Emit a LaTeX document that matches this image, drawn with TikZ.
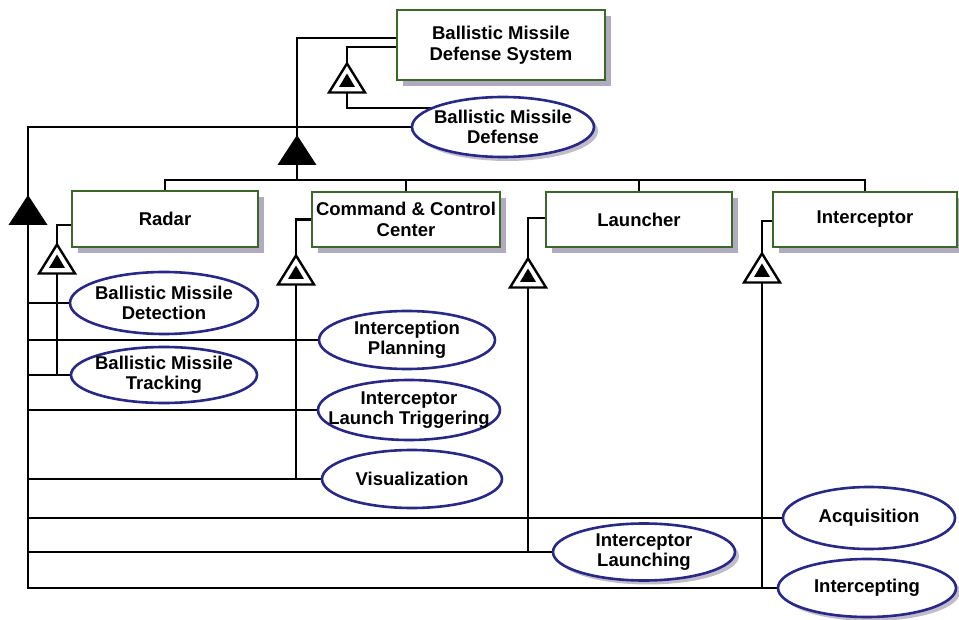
\documentclass[tikz,border=0pt]{standalone}
\usepackage{fontspec}
\setmainfont{Liberation Sans}
\usetikzlibrary{shapes.geometric,shadows,backgrounds}
\definecolor{boxgreen}{RGB}{58,104,40}
\definecolor{ovalblue}{RGB}{40,40,135}
\definecolor{shadowgray}{RGB}{178,170,190}
\begin{document}
\begin{tikzpicture}[x=1pt,y=-1pt,
  lbl/.style={font=\bfseries\fontsize{18.5}{20.5}\selectfont, align=center, inner sep=0pt},
  block/.style={lbl, rectangle, draw=boxgreen, line width=2.2pt, fill=white,
     drop shadow={shadow xshift=6pt, shadow yshift=-6pt, fill=shadowgray, opacity=1}},
  oval/.style={ellipse, draw=ovalblue, line width=2.6pt, fill=white, inner sep=0pt},
  ovalshade/.style={drop shadow={shadow xshift=4pt, shadow yshift=-4pt, fill=shadowgray, opacity=.8}},
  txt/.style={lbl, fill=none, draw=none},
  wire/.style={line width=2.6pt, black},
  solidtri/.pic={\fill[black] (-19.5,15) -- (0,-15) -- (19.5,15) -- cycle;},
  hollowtri/.pic={\draw[line width=2.4pt, fill=white] (-18,14.5) -- (0,-14.5) -- (18,14.5) -- cycle;
                  \fill[black] (-8,9) -- (0,-4.5) -- (8,9) -- cycle;},
]
\useasboundingbox (0,0) rectangle (959,620);

% system and its function
\node[block, minimum width=208pt, minimum height=70pt] (sys) at (501,45) {Ballistic Missile\\Defense System};
\node[oval, ovalshade, minimum width=182pt, minimum height=60pt,
      label={[txt]center:{Ballistic Missile\\Defense}}] (bmd) at (503,127) {};

% subsystems
\node[block, minimum width=186pt, minimum height=56pt] (radar) at (165,219) {Radar};
\node[block, minimum width=188pt, minimum height=55pt] (cc) at (406,219.5) {Command \& Control\\Center};
\node[block, minimum width=186pt, minimum height=55pt] (lau) at (639,219.5) {Launcher};
\node[block, minimum width=184pt, minimum height=55pt] (int) at (865,219.5) {Interceptor};

% subsystem functions
\node[oval, minimum width=188pt, minimum height=62pt,
      label={[txt]center:{Ballistic Missile\\Detection}}] (det) at (164,303) {};
\node[oval, minimum width=186pt, minimum height=56pt,
      label={[txt]center:{Ballistic Missile\\Tracking}}] (trk) at (164,375) {};
\node[oval, minimum width=176pt, minimum height=58pt,
      label={[txt]center:{Interception\\Planning}}] (plan) at (407,340) {};
\node[oval, minimum width=182pt, minimum height=60pt,
      label={[txt]center:{Interceptor\\Launch Triggering}}] (trig) at (409,410) {};
\node[oval, minimum width=180pt, minimum height=58pt,
      label={[txt]center:{Visualization}}] (vis) at (412,479) {};
\node[oval, minimum width=172pt, minimum height=62pt,
      label={[txt]center:{Acquisition}}] (acq) at (869,518) {};
\node[oval, ovalshade, minimum width=182pt, minimum height=57pt,
      label={[txt]center:{Interceptor\\Launching}}] (ilau) at (644,552) {};
\node[oval, ovalshade, minimum width=178pt, minimum height=58pt,
      label={[txt]center:{Intercepting}}] (icpt) at (867,588) {};

% junction points
\coordinate (hub) at (297,180);
\coordinate (spine) at (28,588);
\coordinate (sub) at (347,108);
\coordinate (rv) at (57,375);
\coordinate (cv) at (296,479);
\coordinate (lv) at (528,552);
\coordinate (iv) at (762,588);

\begin{pgfonlayer}{background}
  \draw[wire] ([yshift=7pt]sys.west) -| (hub);
  \draw[wire] ([yshift=-2pt]sys.west) -| (sub) -- (sub -| bmd.center);
  \draw[wire] (radar.north) |- (int.north |- hub) -- (int.north);
  \draw[wire] (cc.north) -- (cc.north |- hub);
  \draw[wire] (lau.north) -- (lau.north |- hub);
  \draw[wire] (bmd.center) -| (spine) -- (icpt.center);
  \foreach \n in {det,trk,plan,trig,vis,acq,ilau}
    \draw[wire] (spine |- \n.center) -- (\n.center);
  \draw[wire] ([yshift=-6pt]radar.west) -| (rv) -- (trk.center);
  \draw[wire] (cc.west) -| (cv) -- (vis.center);
  \draw[wire] ([yshift=1.5pt]lau.west) -| (lv) -- (ilau.center);
  \draw[wire] ([yshift=-1.5pt]int.west) -| (iv) -- (icpt.center);
\end{pgfonlayer}

% decomposition and specialisation markers
\pic at (297,150) {solidtri};
\pic at (28,210) {solidtri};
\pic at (347,78) {hollowtri};
\pic at (57,259) {hollowtri};
\pic at (296,270) {hollowtri};
\pic at (528,273) {hollowtri};
\pic at (762,268) {hollowtri};
\end{tikzpicture}
\end{document}
